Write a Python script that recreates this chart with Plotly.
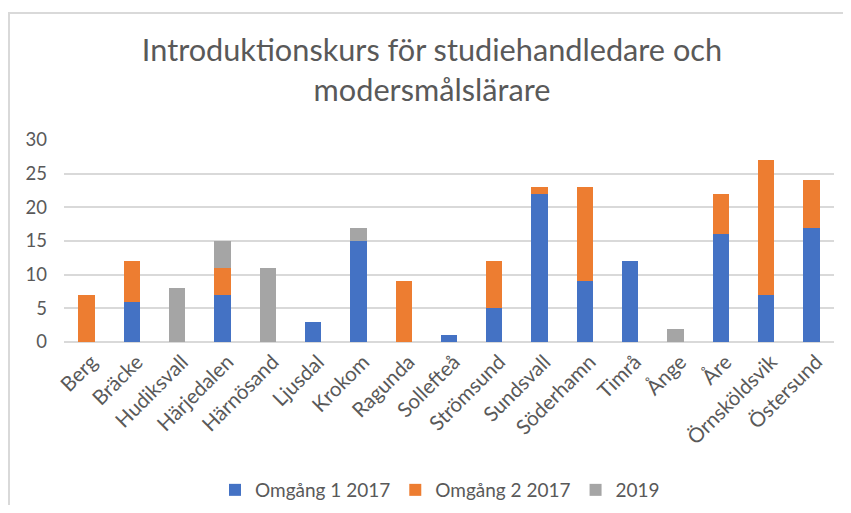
import plotly.graph_objects as go

categories = ["Berg", "Bräcke", "Hudiksvall", "Härjedalen", "Härnösand", "Ljusdal", "Krokom",
              "Ragunda", "Sollefteå", "Strömsund", "Sundsvall", "Söderhamn", "Timrå", "Ånge",
              "Åre", "Örnsköldsvik", "Östersund"]
omgang1_2017 = [0, 6, 0, 7, 0, 3, 15, 0, 1, 5, 22, 9, 12, 0, 16, 7, 17]
omgang2_2017 = [7, 6, 0, 4, 0, 0, 0, 9, 0, 7, 1, 14, 0, 0, 6, 20, 7]
y2019 = [0, 0, 8, 4, 11, 0, 2, 0, 0, 0, 0, 0, 0, 2, 0, 0, 0]

series = [("Omgång 1 2017", omgang1_2017, "#4472C4"),
          ("Omgång 2 2017", omgang2_2017, "#ED7D31"),
          ("2019", y2019, "#A5A5A5")]

fig = go.Figure()
for name, vals, col in series:
    fig.add_trace(go.Bar(x=categories, y=vals, name=name, marker_color=col,
                         marker_line_width=0))

FONT = "Lato, 'Open Sans', sans-serif"
OFF = 8  # page body margin
W, H = 835, 497
L, T = 64 - OFF, 140 - OFF
R = W - (834 - OFF)
B = H - (342 - OFF)
pw = W - L - R
ph = H - T - B

def py(pix):  # reference pixel y -> paper y
    return (342 - pix) / ph

def px(pix):  # reference pixel x -> paper x
    return (pix - 64) / pw

fig.update_layout(
    width=W, height=H,
    barmode="stack", bargap=0.64,
    plot_bgcolor="white", paper_bgcolor="white",
    margin=dict(l=L, r=R, t=T, b=B, autoexpand=False),
    font=dict(family=FONT, color="#595959", size=18),
    title=dict(text="Introduktionskurs för studiehandledare och<br>modersmålslärare",
               x=(432 - OFF) / W, xanchor="center", y=1 - 53 / H, yanchor="top", yref="container",
               font=dict(family=FONT, size=30.7, color="#595959")),
    legend=dict(orientation="h", x=px(440), xanchor="center", y=py(490),
                yanchor="middle", font=dict(size=19, color="#595959"),
                traceorder="normal", itemwidth=30),
    showlegend=True,
)

fig.update_xaxes(tickangle=-45, showgrid=False, showline=False, ticks="",
                 tickfont=dict(size=20.5, color="#595959"), automargin=False,
                 ticklabelshift=5, ticklabelstandoff=3)
fig.update_yaxes(range=[0, 30], dtick=5, showgrid=True, gridcolor="#D9D9D9", gridwidth=1.5,
                 zeroline=True, zerolinecolor="#D9D9D9", zerolinewidth=1.5,
                 tickfont=dict(size=18.5, color="#595959"), ticks="", ticklabelstandoff=16,
                 automargin=False)

# chart-area border
fig.add_shape(type="rect", xref="paper", yref="paper",
              x0=px(9), x1=px(W + OFF + 10),
              y0=py(H + OFF + 10), y1=py(13),
              line=dict(color="#D9D9D9", width=2), fillcolor="rgba(0,0,0,0)", layer="below")

fig.write_html("out.html")
